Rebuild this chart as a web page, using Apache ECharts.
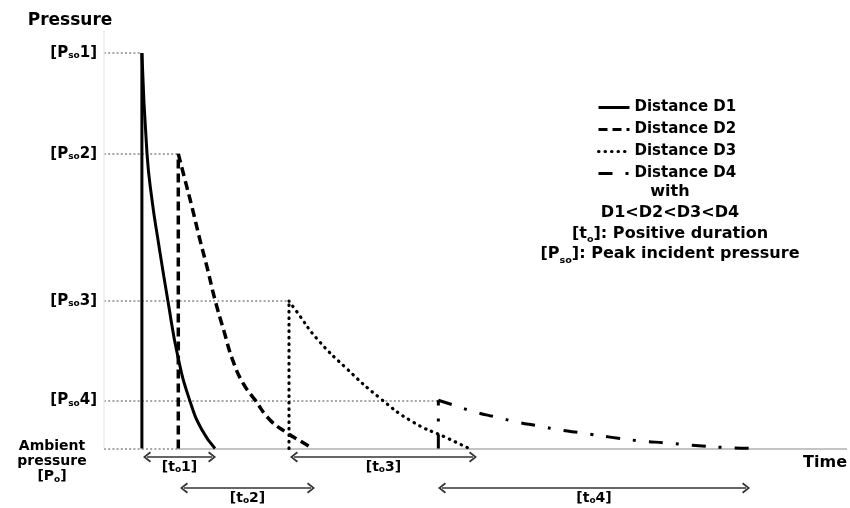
<!DOCTYPE html>
<html><head><meta charset="utf-8">
<script src="https://cdn.jsdelivr.net/npm/echarts@6/dist/echarts.min.js"></script>
<style>html,body{margin:0;padding:0;background:#fff}#c{width:850px;height:508px}</style>
</head><body><div id="c"></div>
<script>
// ---------- data ----------
const seriesNames = ['Distance D1', 'Distance D2', 'Distance D3', 'Distance D4'];
const peakLabels = ['[Pso1]', '[Pso2]', '[Pso3]', '[Pso4]'];
const peakT = [5.1, 10.0, 24.9, 45.0];        // arrival time of each blast wave
const peakP = [94.5, 70.4, 35.2, 11.5];       // peak incident overpressure
const ambientLabel = 'Ambient\npressure\n[Po]';

const d1T = [5.1, 5.79, 6.46, 7.27, 8.61, 9.96, 11.57, 13.19, 14.94];
const d1P = [94.5, 70.4, 59.4, 49.8, 35.2, 21.8, 11.3, 4.4, 0];
const d2T = [10.0, 10.9, 11.84, 12.92, 13.86, 14.94, 16.1, 17.36, 18.71, 20.32, 22.34, 24.63, 26.38, 28.13];
const d2P = [70.4, 64.2, 57.7, 49.8, 43.4, 35.5, 28.3, 20.9, 15.6, 11.6, 6.8, 3.7, 1.8, 0];
const d3T = [24.9, 25.98, 28.67, 32.71, 37.15, 41.59, 46.16, 49.13];
const d3P = [35.2, 32.6, 26.2, 19.0, 12.0, 6.3, 2.5, 0];
const d4T = [45.0, 46.97, 49.93, 52.76, 55.59, 58.41, 61.37, 64.33, 68.10, 72.14, 75.77, 78.87, 83.85, 87.89];
const d4P = [11.5, 10.4, 8.7, 7.5, 6.3, 5.4, 4.4, 3.7, 2.7, 1.8, 1.3, 0.8, 0.2, 0];

const durationLabels = ['[to1]', '[to2]', '[to3]', '[to4]'];
const durationStart = [5.79, 10.77, 25.57, 45.49];
const durationEnd = [14.54, 27.86, 49.66, 86.41];

const legendNotes = ['with', 'D1<D2<D3<D4', '[to]: Positive duration', '[Pso]: Peak incident pressure'];

// ---------- styling ----------
const FONT = 'DejaVu Sans';
const SUB = { fontSize: 9, fontWeight: 'bold', fontFamily: FONT, color: '#000', verticalAlign: 'bottom' };
function rt(s) {
  return s.replace(/P(so|o)(?=\d|\])/g, 'P{s|$1}').replace(/\[t(o)(?=\d|\])/g, '[t{s|$1}');
}
const curves = [[d1T, d1P], [d2T, d2P], [d3T, d3P], [d4T, d4P]];
const lineStyles = [
  { type: 'solid', width: 3 },
  { type: [9, 5], width: 3.5 },
  { type: [0.5, 6], width: 3.2, cap: 'round' },
  { type: [14, 13, 3, 13], width: 3 }
];
const CHEVRON = 'path://M5,0 L10,8.6 L8.6,10 L5,3.4 L1.4,10 L0,8.6 Z';

const series = [];
curves.forEach(function (c, i) {
  series.push({
    type: 'line', name: seriesNames[i], symbol: 'none', smooth: 0.5,
    data: c[0].map(function (t, k) { return [t, c[1][k]]; }),
    lineStyle: Object.assign({ color: '#000' }, lineStyles[i]), z: 4, silent: true
  });
});
curves.forEach(function (c, i) {
  series.push({
    type: 'line', name: seriesNames[i], symbol: 'none',
    data: [[peakT[i], 0], [peakT[i], peakP[i]]],
    lineStyle: Object.assign({ color: '#000' }, lineStyles[i]), z: 4, silent: true
  });
});

const guideData = peakP.map(function (p, i) {
  return [{ coord: [0, p] }, { coord: [peakT[i], p] }];
});
guideData.push([{ coord: [0, 0] }, { coord: [peakT[1], 0] }]);
guideData.push([{ coord: [peakT[1], 0], lineStyle: { type: 'solid', color: '#c4c4c4', width: 2 } }, { coord: [100, 0] }]);
guideData.push([{ coord: [0, 0], lineStyle: { type: 'solid', color: '#ececec', width: 1.5 } }, { coord: [0, 100] }]);

series.push({
  type: 'line', name: 'guides', data: [], silent: true,
  markLine: {
    silent: true, symbol: 'none', animation: false, z: 2,
    label: { show: false },
    lineStyle: { color: '#a6a6a6', width: 2, type: [2, 2.2] },
    data: guideData
  }
});

const durLevels = [-2.06, -9.46, -2.06, -9.46];
series.push({
  type: 'line', name: 'durations', data: [], silent: true,
  markLine: {
    silent: true, animation: false, z: 3,
    symbol: [CHEVRON, CHEVRON], symbolSize: [11, 8],
    lineStyle: { color: '#333', width: 1.5, type: 'solid' },
    label: {
      show: true, position: 'insideMiddleBottom', distance: 3,
      color: '#000', fontFamily: FONT, fontWeight: 'bold', fontSize: 14,
      rich: { s: SUB },
      formatter: function (p) { return rt(p.name); }
    },
    data: durationLabels.map(function (n, i) {
      return [{ name: n, coord: [durationStart[i], durLevels[i]] }, { coord: [durationEnd[i], durLevels[i]] }];
    })
  }
});

const option = {
  animation: false,
  backgroundColor: '#fff',
  grid: { left: 104, right: 3, top: 30, bottom: 1, containLabel: false, outerBoundsMode: 'none' },
  xAxis: {
    type: 'value', min: 0, max: 100,
    axisLine: { show: false, onZero: true },
    axisTick: { show: false }, axisLabel: { show: false }, splitLine: { show: false },
    name: 'Time', nameLocation: 'end', nameGap: 0,
    nameTextStyle: { align: 'right', verticalAlign: 'top', padding: [6, 0, 0, 0],
      fontFamily: FONT, fontWeight: 'bold', fontSize: 16, color: '#000' }
  },
  yAxis: {
    type: 'value', min: -14, max: 100,
    axisLine: { show: false }, axisTick: { show: false }, splitLine: { show: false },
    axisLabel: {
      customValues: peakP, margin: 7,
      color: '#000', fontFamily: FONT, fontWeight: 'bold', fontSize: 15,
      rich: { s: SUB },
      formatter: function (v) { const i = peakP.indexOf(v); return i < 0 ? '' : rt(peakLabels[i]); }
    },
    name: 'Pressure', nameLocation: 'end', nameGap: 1,
    nameTextStyle: { fontFamily: FONT, fontWeight: 'bold', fontSize: 17, color: '#000', padding: [0, 68, 0, 0] }
  },
  legend: {
    data: seriesNames, orient: 'vertical', left: 597, top: 100, padding: 0,
    itemWidth: 31, itemHeight: 14, itemGap: 7, selectedMode: false,
    lineStyle: { width: 3 },
    itemStyle: { opacity: 0 },
    textStyle: { fontFamily: FONT, fontWeight: 'bold', fontSize: 15, color: '#000' }
  },
  graphic: [
    { type: 'text', x: 52, y: 439, silent: true,
      style: { text: rt(ambientLabel), align: 'center', textAlign: 'center', verticalAlign: 'top', textVerticalAlign: 'top',
        fontFamily: FONT, fontWeight: 'bold', fontSize: 14, lineHeight: 15, fill: '#000',
        rich: { s: Object.assign({}, SUB, { lineHeight: 15 }) } } },
    { type: 'text', x: 670, y: 182, scaleX: 1.07, silent: true,
      style: { text: legendNotes.map(rt).join('\n'), align: 'center', textAlign: 'center', verticalAlign: 'top', textVerticalAlign: 'top',
        fontFamily: FONT, fontWeight: 'bold', fontSize: 15, lineHeight: 20.7, fill: '#000',
        rich: { s: Object.assign({}, SUB, { lineHeight: 20.7 }) } } }
  ],
  series: series
};
const chart = echarts.init(document.getElementById('c'), null, { renderer: 'canvas' });
chart.setOption(option);
</script>
</body></html>
